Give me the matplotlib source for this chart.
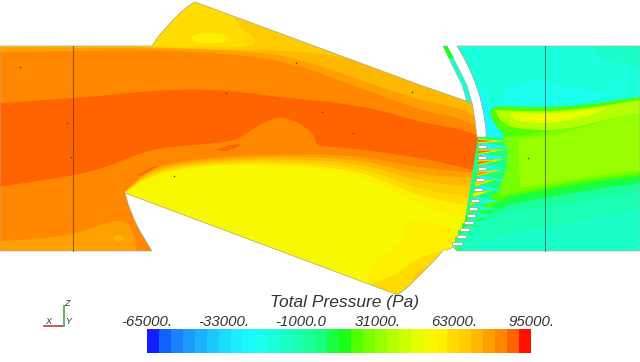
import matplotlib
matplotlib.use('Agg')
import matplotlib.pyplot as plt
import numpy as np
from matplotlib.patches import Polygon, Ellipse

# colour bar
bar_colors = ['#0f1fff', '#0f62ff', '#1a82ff', '#1a9aff', '#1ab2ff', '#1ac8ff', '#1adcff', '#1aeeff',
              '#1af8ff', '#1affee', '#1affdc', '#1affca', '#1affb4', '#1aff9c', '#1aff80', '#1aff40',
              '#1aff1a', '#50ff00', '#78ff00', '#98ff00', '#b4ff00', '#ccff00', '#e4ff00', '#f8f800',
              '#fff000', '#ffdc00', '#ffcc00', '#ffb800', '#ffa000', '#ff8800', '#ff6400', '#ff1000']
bar_levels = np.arange(-65000, 95001, 5000)
bar_ticks = [-65000, -33000, -1000, 31000, 63000, 95000]
bar_ticklabels = ['-65000.', '-33000.', '-1000.0', '31000.', '63000.', '95000.']

# domain outline, in image pixels
outline = [(0, 46), (152, 46), (158, 37), (165, 29), (172, 21), (180, 13), (187, 7), (195, 2), (420, 85), (472, 103),
           (475, 120), (477, 137), (486, 137), (486, 130), (484, 115), (480, 97), (475, 82), (470, 70), (464, 58),
           (457, 46), (640, 46), (640, 251), (457, 251), (453, 247), (448, 250), (443, 250), (442, 252), (431, 264),
           (420, 275), (410, 285), (398, 295), (125, 193), (129, 206), (134, 219), (140, 231), (146, 241), (152, 251),
           (0, 251)]
sliver = [(443, 46), (453, 67), (462, 85), (467, 102), (472, 103), (467, 85), (458, 67), (447, 46)]
sliver_top = [(443, 46), (449, 58), (454, 58), (447, 46)]

# inlet, upper bands (boundary seen from the top of the picture)
top_a = [(0, 52), (153, 50), (200, 52), (260, 57), (300, 66), (333, 78), (380, 95), (420, 110), (460, 118), (480, 128), (520, 140)]
top_b = [(0, 47.5), (153, 48), (200, 49), (267, 53), (300, 60), (333, 70), (380, 87), (420, 100), (460, 108), (480, 118), (520, 130)]
top_c = [(140, 47), (233, 50), (270, 50), (300, 52), (333, 55), (360, 62), (420, 80)]
top_d = [(140, 46.5), (240, 47.5), (255, 45), (255, 38), (247, 33), (233, 17), (226, 5), (190, -5)]
top_blob = (210, 38, 37, 11)

# inlet, dark core
core = [(-10, 104), (73, 98), (100, 96), (150, 91), (193, 89), (233, 91), (287, 98), (333, 102), (380, 110), (420, 122),
        (460, 129), (480, 136), (530, 150), (530, 182), (476, 171), (453, 165), (420, 158), (367, 150), (320, 146), (317, 145),
        (313, 133), (297, 122), (282, 117), (267, 120), (247, 133), (233, 142), (167, 147), (143, 152), (107, 167),
        (73, 176), (-10, 188)]
core_patch1 = [(215, 150), (233, 144), (243, 145), (227, 151)]
core_patch2 = [(137, 175), (157, 165), (158, 167), (140, 176)]

# inlet, lip bands
lip_x = [125, 150, 187, 250, 317, 367, 420, 478, 520]
lip_a = [192, 168, 160, 155, 154, 157, 168, 173, 176]
lip_b = [192, 170, 162, 157, 157, 161, 175, 178, 181]
lip_c = [192, 172, 164, 159, 160, 165, 182, 187, 192]
lip_d = [192, 174, 165, 161, 163, 169, 190, 197, 204]
lip_e = [192, 176, 167, 163, 166, 173, 197, 207, 216]
lip_f = [192, 178, 168, 165, 168, 178, 205, 223, 236]

# inlet, lower corners
low_left = [(-30, 243), (67, 237), (113, 220), (127, 222), (133, 230), (139, 262), (-30, 262)]
low_left_dot = (119, 238, 10, 6)
low_right_a = [(402, 223), (405, 240), (380, 257), (360, 282), (398, 305), (470, 265), (475, 235), (440, 225), (420, 220)]
low_right_b = [(370, 284), (390, 277), (403, 270), (417, 258), (445, 250), (460, 255), (412, 300), (385, 300)]
low_right_c = [(427, 267), (418, 270), (410, 282), (420, 278)]

# outlet
outlet = [(457, 46), (640, 46), (640, 251), (450, 251), (457, 243), (461, 236), (464, 229), (468, 222), (471, 215),
          (473, 208), (475, 200), (478, 189), (480, 179), (482, 168), (482, 157), (482, 146), (480, 137), (486, 130),
          (484, 115), (480, 97), (475, 82), (470, 70), (464, 58)]
out_upper = [(450, 40), (700, 40), (700, 95), (640, 97), (587, 105), (545, 108), (490, 106), (484, 100)]
out_corner = [(590, 40), (700, 40), (700, 72), (620, 66), (597, 55)]
out_cyan = [(500, 105), (545, 106), (590, 102), (625, 94), (590, 92), (545, 80), (520, 82), (505, 92)]
out_near = [(478, 85), (490, 106), (496, 125), (503, 138), (480, 140), (476, 93)]

wake_x = [490, 545, 590, 640, 700]
wake_top = [106, 108, 105, 97, 90]
wake_1 = [238, 227, 219, 210, 200]
wake_2 = [215, 207, 199, 192, 184]
wake_3 = [208, 198, 190, 183, 176]
wake_4 = [200, 190, 182, 176, 170]
wake_left = [(491, 117), (497, 127), (505, 135)]
wake_soft = [(504, 138), (530, 134), (560, 128), (590, 120), (640, 106), (700, 98), (700, 166), (640, 173), (590, 179), (545, 187), (500, 196)]
wake_main = [(518, 141), (530, 138), (560, 134), (590, 125), (640, 112), (700, 102), (700, 163), (640, 170), (590, 176), (545, 184), (520, 188)]
wake_yel_a = [(495, 110), (545, 112), (590, 108), (640, 100), (700, 92), (700, 106), (640, 112), (590, 124), (560, 130), (530, 130), (510, 127), (500, 120)]
wake_yel_b = [(510, 112), (545, 114), (590, 110), (612, 106), (590, 116), (555, 123), (530, 123), (515, 120)]
wake_yel_c = [(530, 115), (545, 116), (575, 114), (555, 120), (535, 120)]
jet_zone = [(478, 137), (500, 137), (508, 150), (506, 170), (498, 190), (478, 212), (458, 245), (465, 220)]

# blades and jets between them
blade_x = [482, 482, 482, 480, 478, 475, 473, 471, 468, 464, 461, 457]
blade_y = [146, 157, 168, 179, 189, 200, 208, 215, 222, 229, 236, 243]
blade_w = [8, 8, 8, 8, 8, 8, 8, 8, 9, 9, 9, 10]
jet_x = [478, 478, 478, 477, 475, 473, 470, 468, 465, 462, 458, 455]
jet_y = [141, 152, 163, 174, 184, 195, 204, 212, 219, 226, 233, 240]
jet_len = [32, 34, 33, 30, 28, 24, 15, 13, 12, 11, 10, 9]
jet_rise = [0, -3, -5, -5, -6, -6, -5, -4, -4, -3, -3, -3]
jet_heat = [30, 30, 30, 29, 27, 24, 20, 18, 17, 16, 15, 14]

# vertical section lines and small specks
line_x = [73, 545]
speck_x = [20, 67, 71, 226, 174, 296, 322, 353, 412, 528]
speck_y = [67, 123, 157, 93, 176, 63, 112, 133, 92, 158]

# axes triad
triad_o = (64, 326)
triad_x = (44, 326)
triad_z = (64, 306)

fig = plt.figure(figsize=(6.4, 3.62), dpi=100)
ax = fig.add_axes([0, 0, 1, 1])
ax.set_xlim(0, 640)
ax.set_ylim(362, 0)
ax.axis('off')

clip = Polygon(outline, closed=True, transform=ax.transData)


def chaikin(points, n=2):
    # round off a hand read boundary, the two ends stay where they are
    pts = np.array(points, dtype=float)
    for _ in range(n):
        q = 0.75 * pts[:-1] + 0.25 * pts[1:]
        r = 0.25 * pts[:-1] + 0.75 * pts[1:]
        mid = np.empty((2 * len(q), 2))
        mid[0::2] = q
        mid[1::2] = r
        pts = np.vstack([pts[:1], mid, pts[-1:]])
    return pts


def region(points, level, z=2, smooth=True):
    pts = chaikin(points) if smooth else points
    p = Polygon(pts, closed=True, fc=bar_colors[level], ec='none', zorder=z)
    ax.add_patch(p)
    p.set_clip_path(clip)
    return p


def blob(e, level, z=2):
    p = Ellipse(e[:2], e[2], e[3], fc=bar_colors[level], ec='none', zorder=z)
    ax.add_patch(p)
    p.set_clip_path(clip)


def above(boundary, level):
    pts = chaikin(boundary).tolist()
    region(pts + [[pts[-1][0], -5], [pts[0][0], -5]], level, smooth=False)


def below(xs, ys, level):
    pts = chaikin(list(zip(xs, ys))).tolist()
    region(pts + [[520, 320], [398, 300], [125, 195]], level, smooth=False)


# inlet
region(outline, 29, smooth=False)
above(top_a, 28)
above(top_b, 27)
above(top_c, 26)
region(top_d, 25)
blob(top_blob, 24)
region(core, 30)
region(core_patch1, 30)
region(core_patch2, 30)
for ys, lev in zip([lip_a, lip_b, lip_c, lip_d, lip_e, lip_f], [28, 27, 26, 25, 24, 23]):
    below(lip_x, ys, lev)
region(low_left, 28)
blob(low_left_dot, 27)
region(low_right_a, 24)
region(low_right_b, 25)
region(low_right_c, 26)

# outlet
region(outlet, 11, 3, smooth=False)
region(out_upper, 10, 3)
region(out_corner, 11, 3)
region(out_cyan, 9, 3)
region(out_near, 8, 3)


def wake(ys, level):
    top = chaikin(wake_left[::-1] + list(zip(wake_x, wake_top))).tolist()
    bottom = chaikin(list(zip(wake_x, ys))[::-1] + [(455, 255)]).tolist()
    region(top + bottom, level, 3, smooth=False)


wake(wake_1, 12)
wake(wake_2, 13)
wake(wake_3, 15)
wake(wake_4, 17)
region(wake_soft, 18, 3)
region(wake_main, 19, 3)
region(wake_yel_a, 20, 3)
region(wake_yel_b, 22, 3)
region(wake_yel_c, 23, 3)
region(jet_zone, 14, 3)

# wakes behind the blades, then the jets
for bx, by, w in zip(blade_x, blade_y, blade_w):
    region([(bx, by - 3.5), (bx + w / 2 + 22, by + 1), (bx, by + 4)], 8 if by < 205 else 11, 4, smooth=False)
for jx, jy, ln, rise, heat in zip(jet_x, jet_y, jet_len, jet_rise, jet_heat):
    for k, scale in enumerate([1.0, 0.9, 0.8, 0.65, 0.45]):
        lev = int(round(15 + (heat - 15) * k / 4))
        region([(jx, jy - 2.6 * scale), (jx + ln * scale, jy + rise * scale), (jx, jy + 2.6 * scale)], lev, 4 + k * 0.1,
               smooth=False)

for bx, by, w in zip(blade_x, blade_y, blade_w):
    ax.add_patch(Polygon([(bx - w / 2, by - 1.5), (bx + w / 2, by - 1.5), (bx + w / 2, by + 1.5), (bx - w / 2, by + 1.5)],
                         closed=True, fc='white', ec='#a0a0a0', lw=0.5, zorder=6))

# sliver, edges and section lines
ax.add_patch(Polygon(sliver, closed=True, fc=bar_colors[11], ec='#b0b0b0', lw=0.4, zorder=5))
ax.add_patch(Polygon(sliver_top, closed=True, fc=bar_colors[16], ec='none', zorder=5))
ax.add_patch(Polygon(outline, closed=True, fc='none', ec='#b0b098', lw=0.5, zorder=5))
for x in line_x:
    ax.plot([x, x], [46, 251], color='#303030', alpha=0.55, lw=0.8, zorder=5)
ax.scatter(speck_x, speck_y, s=1.2, color='#604020', lw=0, zorder=5)

# triad
ax.plot([triad_o[0], triad_x[0]], [triad_o[1], triad_x[1]], color='#b04040', lw=1.2)
ax.plot([triad_o[0], triad_z[0]], [triad_o[1], triad_z[1]], color='#5cb85c', lw=1.4)
ax.text(48, 322, 'X', fontsize=6.5, style='italic', family='Liberation Sans', ha='center', va='center', color='#333333')
ax.text(68, 322, 'Y', fontsize=6.5, style='italic', family='Liberation Sans', ha='center', va='center', color='#333333')
ax.text(67, 303, 'Z', fontsize=6.5, style='italic', family='Liberation Sans', ha='center', va='center', color='#333333')

# colour bar
cax = fig.add_axes([147 / 640, 9 / 362, 384 / 640, 24 / 362])
cax.pcolormesh(bar_levels, [0, 1], np.arange(32).reshape(1, 32), cmap=matplotlib.colors.ListedColormap(bar_colors),
               vmin=-0.5, vmax=31.5)
cax.set_yticks([])
cax.set_xticks(bar_ticks)
cax.set_xticklabels(bar_ticklabels, fontsize=10.8, style='italic', family='Liberation Sans', color='#333333')
cax.xaxis.tick_top()
cax.tick_params(axis='x', length=0, pad=0)
for s in cax.spines.values():
    s.set_visible(False)
ax.text(345, 302, 'Total Pressure (Pa)', fontsize=12.5, style='italic', family='Liberation Sans',
        ha='center', va='center', color='#333333')

fig.savefig('out.png', dpi=100)
